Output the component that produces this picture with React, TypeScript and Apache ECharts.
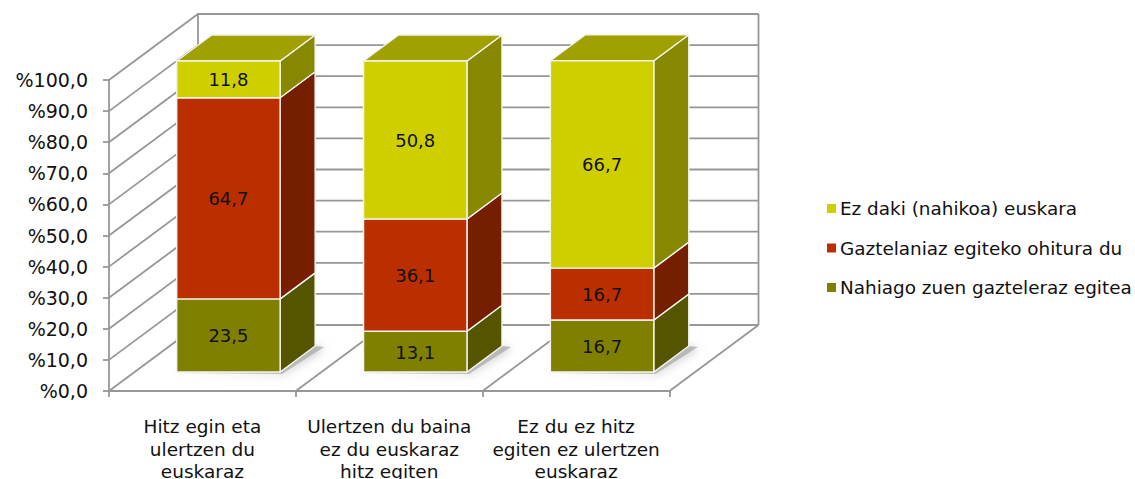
import React, { useEffect, useRef } from "react";
import * as echarts from "echarts";

const categories = ["Hitz egin eta\nulertzen du\neuskaraz", "Ulertzen du baina\nez du euskaraz\nhitz egiten", "Ez du ez hitz\negiten ez ulertzen\neuskaraz"];
const seriesNames = ["Nahiago zuen gazteleraz egitea", "Gaztelaniaz egiteko ohitura du", "Ez daki (nahikoa) euskara"];
const nahiago = [23.5, 13.1, 16.7];
const gaztelaniaz = [64.7, 36.1, 16.7];
const ezDaki = [11.8, 50.8, 66.7];
const valueTicks = [0, 10, 20, 30, 40, 50, 60, 70, 80, 90, 100];
const frontColors = ["#808000", "#BB2E00", "#CFCF00"];
const sideColors = ["#555500", "#751E00", "#888800"];
const topColor = "#A0A000";

const GRID = { left: 109, top: 80, width: 560.5, height: 311 };
const WALL = { dx: 89, dy: -66 };
const BAR = { width: 103.4, offsetX: 26, offsetY: -19, dx: 35, dy: -26 };
const LINE = "#979797";
const LINE_W = 1.8;
const FONT = "'DejaVu Sans', Verdana, sans-serif";
const FONT_SIZE = 18;
const LEGEND_FONT_SIZE = 18.4;

const values = [nahiago, gaztelaniaz, ezDaki];

function wallItem(_p: any, api: any) {
  const v = api.value(0);
  const [x0, y] = api.coord([0, v]);
  const band = api.size([1, 0])[0];
  const xL = x0 - band / 2;
  const xR = xL + band * categories.length;
  const children: any[] = [
    {
      type: "polyline",
      shape: { points: [[xL, y], [xL + WALL.dx, y + WALL.dy], [xR + WALL.dx, y + WALL.dy]] },
      style: { stroke: LINE, lineWidth: LINE_W, fill: "none" },
    },
  ];
  if (v === 0) {
    const top = api.coord([0, 100])[1];
    children.push(
      { type: "line", shape: { x1: xL + WALL.dx, y1: y + WALL.dy, x2: xL + WALL.dx, y2: top + WALL.dy }, style: { stroke: LINE, lineWidth: LINE_W } },
      { type: "line", shape: { x1: xR + WALL.dx, y1: y + WALL.dy, x2: xR + WALL.dx, y2: top + WALL.dy }, style: { stroke: LINE, lineWidth: LINE_W } },
    );
    for (let i = 1; i <= categories.length; i++) {
      const x = xL + band * i;
      children.push({ type: "line", shape: { x1: x, y1: y, x2: x + WALL.dx, y2: y + WALL.dy }, style: { stroke: LINE, lineWidth: LINE_W } });
    }
  }
  return { type: "group", children };
}

function shadowItem(_p: any, api: any) {
  const [cx, y] = api.coord([api.value(0), 0]);
  const l = cx - BAR.width / 2 + BAR.offsetX;
  const r = l + BAR.width;
  const b = y + BAR.offsetY;
  return {
    type: "group",
    children: [
      {
        type: "polygon",
        shape: { points: [[l - 6, b + 1], [r + 2, b + 2], [r + BAR.dx + 9, b + BAR.dy + 1], [r + BAR.dx, b + BAR.dy], [r, b]] },
        style: { fill: "rgba(165,165,165,0.7)", shadowBlur: 8, shadowColor: "rgba(140,140,140,0.8)", shadowOffsetX: 1, shadowOffsetY: 1 },
      },
    ],
  };
}

function barItem(s: number) {
  return (_p: any, api: any) => {
    const [cx, y0] = api.coord([api.value(0), api.value(1)]);
    const [, y1] = api.coord([api.value(0), api.value(2)]);
    const l = cx - BAR.width / 2 + BAR.offsetX;
    const r = l + BAR.width;
    const b = y0 + BAR.offsetY;
    const t = y1 + BAR.offsetY;
    const border = { stroke: "#F4F4F0", lineWidth: 1.4 };
    const children: any[] = [
      {
        type: "polygon",
        shape: { points: [[r, t], [r + BAR.dx, t + BAR.dy], [r + BAR.dx, b + BAR.dy], [r, b]] },
        style: { fill: sideColors[s], ...border },
      },
    ];
    if (s === values.length - 1) {
      children.push({
        type: "polygon",
        shape: { points: [[l, t], [l + BAR.dx, t + BAR.dy], [r + BAR.dx, t + BAR.dy], [r, t]] },
        style: { fill: topColor, ...border },
      });
    }
    children.push(
      { type: "rect", shape: { x: l, y: t, width: BAR.width, height: b - t }, style: { fill: frontColors[s], ...border } },
      {
        type: "text",
        style: {
          text: String(api.value(3)).replace(".", ","),
          x: (l + r) / 2,
          y: (t + b) / 2 + 0.5,
          align: "center",
          verticalAlign: "middle",
          fill: "#111",
          font: `${FONT_SIZE}px ${FONT}`,
        },
      },
    );
    return { type: "group", children };
  };
}

export default function App() {
  const ref = useRef<HTMLDivElement>(null);
  useEffect(() => {
    const chart = echarts.init(ref.current!, undefined, { renderer: "svg" });
    const base = categories.map(() => 0);
    const barSeries = values.map((vals, s) => {
      const data = vals.map((v, i) => {
        const start = base[i];
        base[i] += v;
        return [i, start, base[i], v];
      });
      return {
        name: seriesNames[s],
        type: "custom",
        coordinateSystem: "cartesian2d",
        renderItem: barItem(s),
        itemStyle: { color: frontColors[s] },
        encode: { x: 0, y: [1, 2] },
        data,
        clip: false,
        z: 5 + s,
      };
    });
    chart.setOption({
      animation: false,
      backgroundColor: "#fff",
      grid: { ...GRID, containLabel: false, outerBoundsMode: "none" },
      legend: {
        orient: "vertical",
        left: 827,
        top: 199.5,
        padding: 0,
        icon: "rect",
        itemWidth: 9,
        itemHeight: 9,
        itemGap: 21.5,
        data: [...seriesNames].reverse(),
        selectedMode: false,
        textStyle: { fontFamily: FONT, fontSize: LEGEND_FONT_SIZE, color: "#111", padding: [0, 0, 0, -1] },
      },
      xAxis: {
        type: "category",
        data: categories,
        boundaryGap: true,
        axisLine: { lineStyle: { color: LINE, width: LINE_W } },
        axisTick: { show: true, length: 6, lineStyle: { color: LINE, width: LINE_W } },
        axisLabel: { interval: 0, margin: 24.5, fontFamily: FONT, fontSize: 18.5, color: "#111", lineHeight: 22.5, verticalAlign: "top", hideOverlap: false },
      },
      yAxis: {
        type: "value",
        min: 0,
        max: 100,
        interval: 10,
        splitLine: { show: false },
        axisLine: { show: true, lineStyle: { color: LINE, width: LINE_W } },
        axisTick: { show: true, length: 6, lineStyle: { color: LINE, width: LINE_W } },
        axisLabel: {
          margin: 21,
          fontFamily: FONT,
          fontSize: 19,
          color: "#111",
          formatter: (v: number) => "%" + v.toFixed(1).replace(".", ","),
        },
      },
      series: [
        { type: "custom", name: "walls", coordinateSystem: "cartesian2d", renderItem: wallItem, data: valueTicks.map((v) => [v]), encode: { y: 0 }, clip: false, silent: true, z: 1 },
        { type: "custom", name: "shadow", coordinateSystem: "cartesian2d", renderItem: shadowItem, data: categories.map((_, i) => [i]), encode: { x: 0 }, clip: false, silent: true, z: 2 },
        ...barSeries,
      ],
    });
    return () => chart.dispose();
  }, []);
  return <div ref={ref} style={{ position: "fixed", left: 0, top: 0, width: 1135, height: 479 }} />;
}
